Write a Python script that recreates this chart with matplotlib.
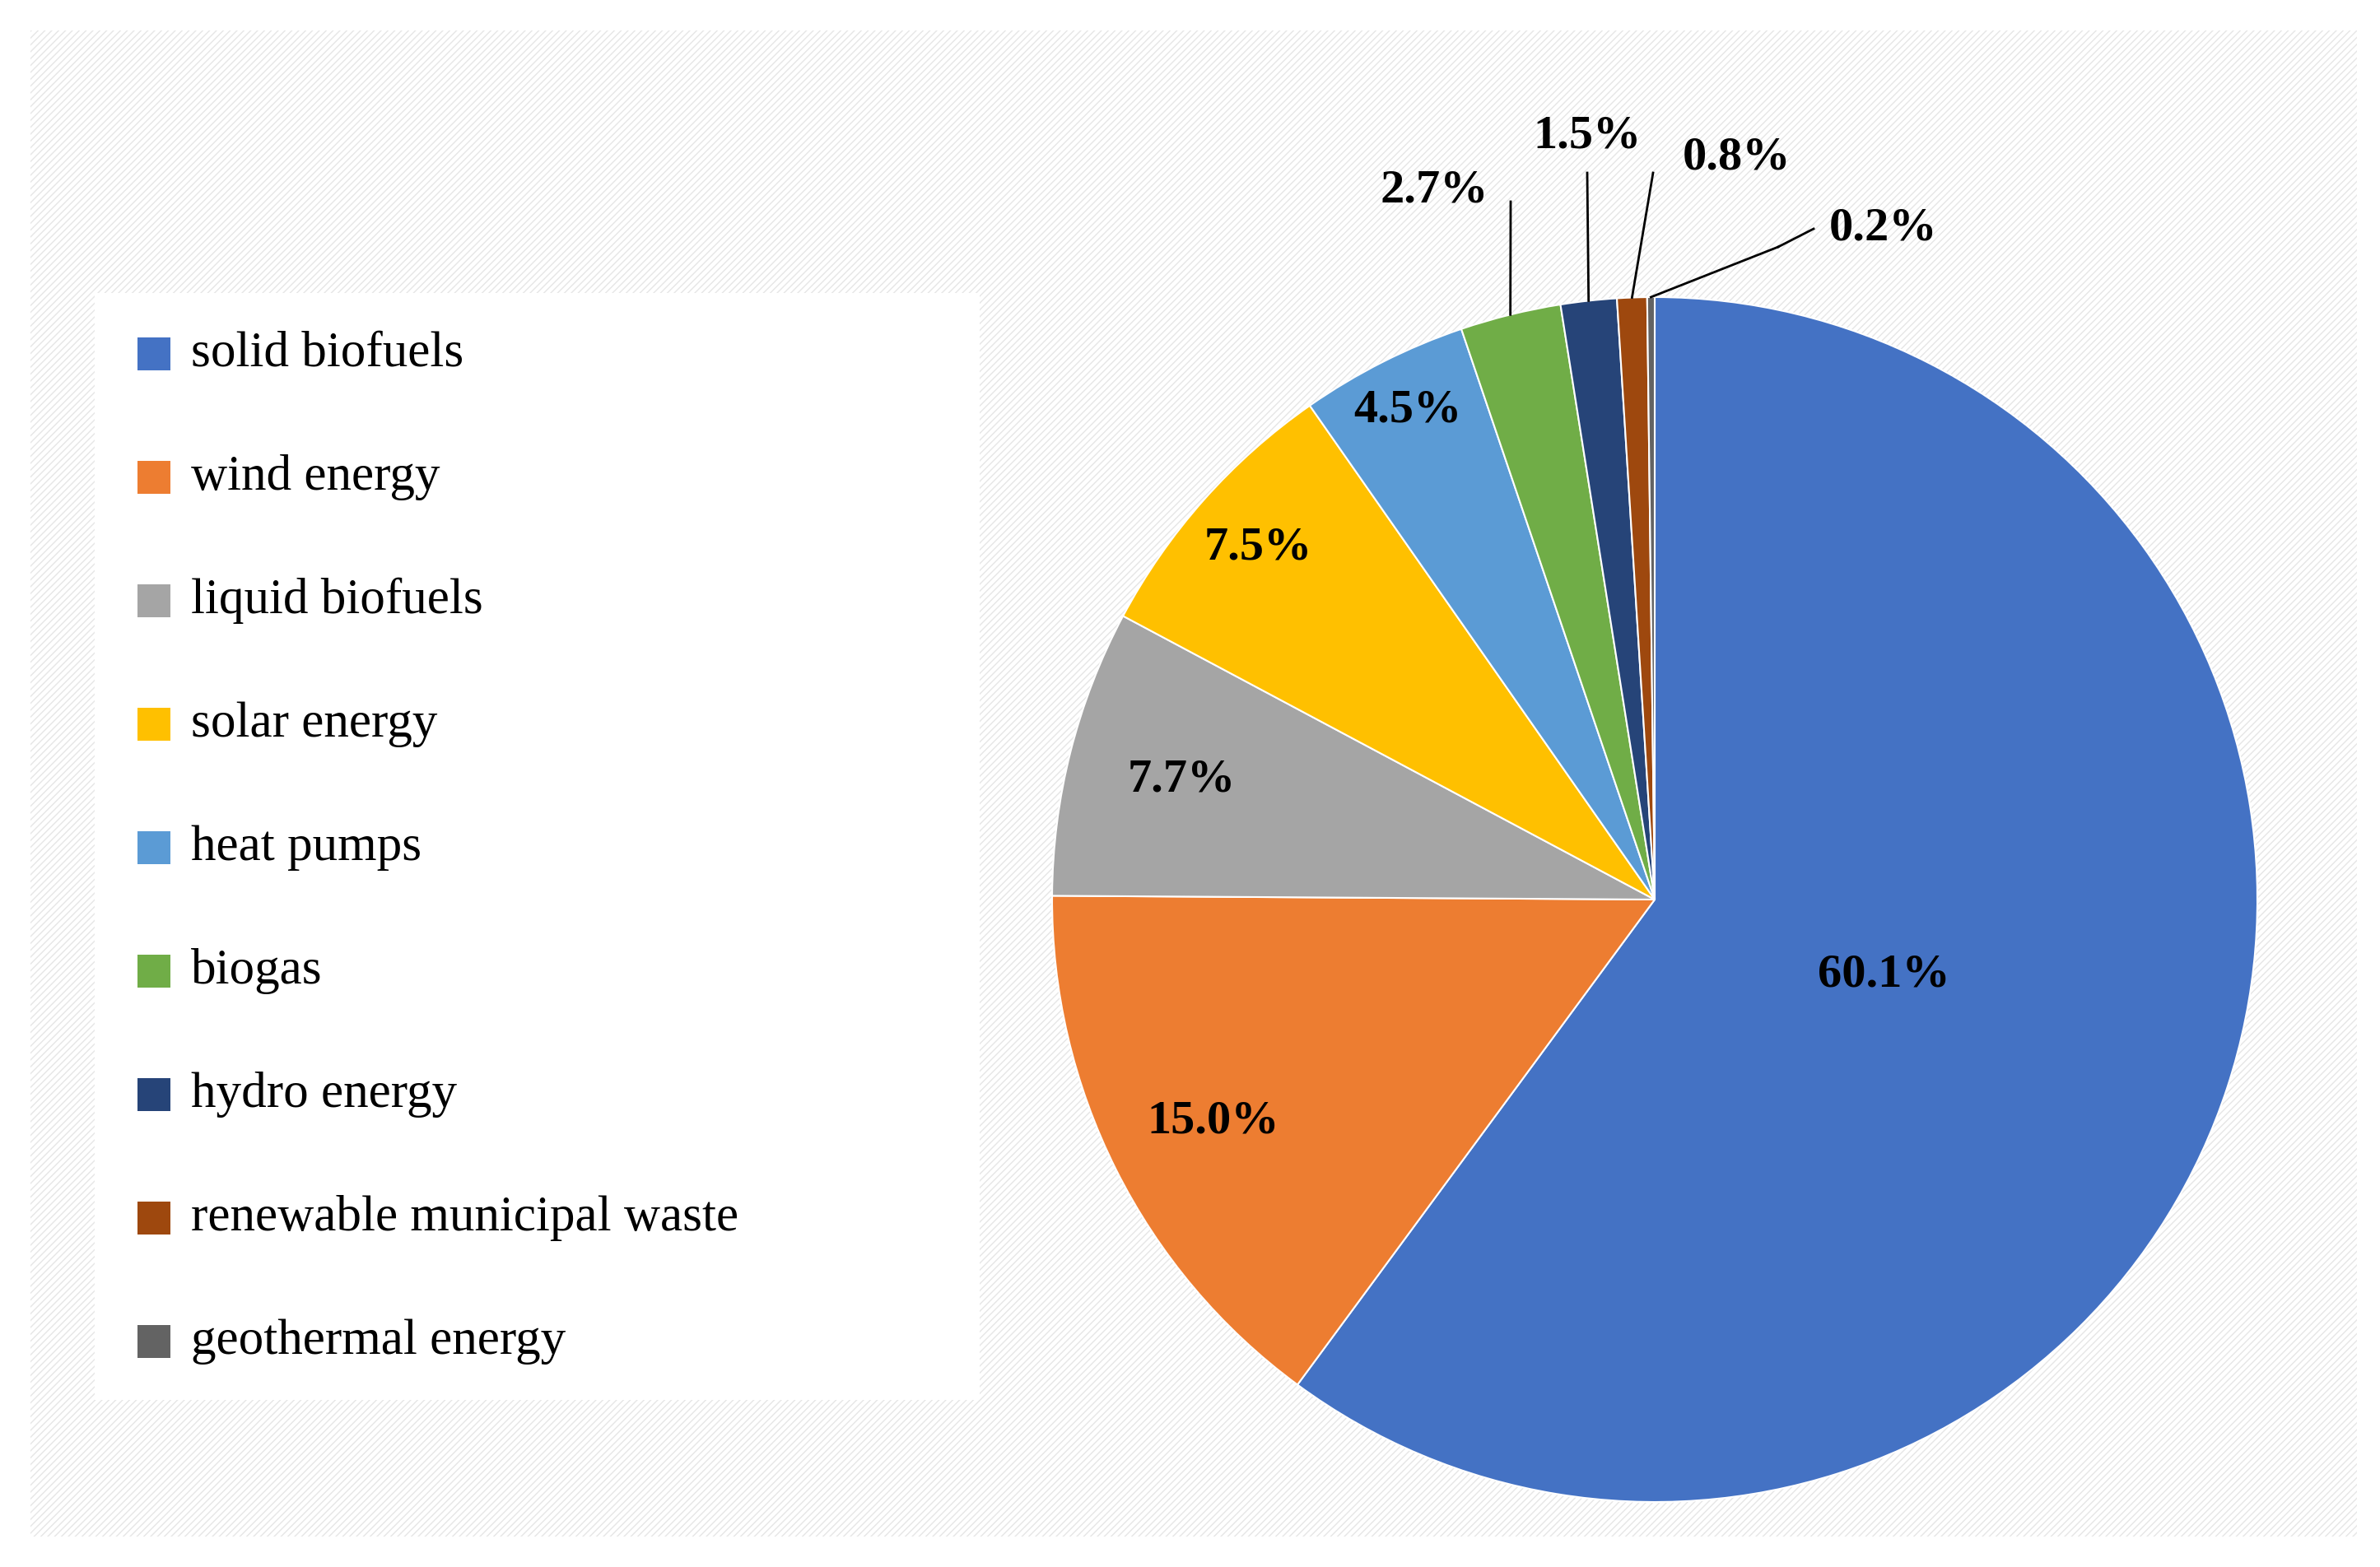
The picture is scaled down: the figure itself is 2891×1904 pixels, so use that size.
import numpy as np
import matplotlib.pyplot as plt
from matplotlib.patches import Rectangle

categories = ['solid biofuels', 'wind energy', 'liquid biofuels', 'solar energy',
              'heat pumps', 'biogas', 'hydro energy', 'renewable municipal waste',
              'geothermal energy']
values = [60.1, 15.0, 7.7, 7.5, 4.5, 2.7, 1.5, 0.8, 0.2]
colors = ['#4472C4', '#ED7D31', '#A5A5A5', '#FFC000', '#5B9BD5', '#70AD47',
          '#264478', '#9E480E', '#636363']

W, H = 2891, 1904
fig = plt.figure(figsize=(W / 100, H / 100), dpi=100)
ax = fig.add_axes([0, 0, 1, 1])
ax.set_xlim(0, W)
ax.set_ylim(0, H)
ax.set_aspect('equal')
ax.axis('off')

# hatched background panel
ax.add_patch(Rectangle((37, 37), 2826, 1830, facecolor='white', edgecolor='#e6e6e6',
                       hatch='////', lw=0, zorder=0))
# legend box
ax.add_patch(Rectangle((115, 203), 1075, 1345, facecolor='white', edgecolor='none', zorder=1))

cx, cy, r = 2010, H - 1093, 732
wedges, _ = ax.pie(values, colors=colors, startangle=90, counterclock=False,
                   center=(cx, cy), radius=r, frame=True,
                   wedgeprops=dict(edgecolor='white', linewidth=1.5))
ax.set_xlim(0, W)
ax.set_ylim(0, H)
ax.axis('off')

font = 'Liberation Serif'
# inside labels: radius fraction per slice
inside_frac = [0.40, 0.82, 0.81, 0.88, 0.91]
for i, frac in enumerate(inside_frac):
    w = wedges[i]
    ang = np.deg2rad((w.theta1 + w.theta2) / 2)
    ax.text(cx + frac * r * np.cos(ang), cy + frac * r * np.sin(ang), f'{values[i]:.1f}%',
            ha='center', va='center', fontsize=42, fontweight='bold', family=font, zorder=5)

# outside labels with leader lines (label pos, line end)
outside = {5: ((1742, H - 232), (1835, H - 245)),
           6: ((1928, H - 165), (1928, H - 210)),
           7: ((2110, H - 192), (2008, H - 210)),
           8: ((2288, H - 278), (2160, H - 300))}
for i, (tpos, lend) in outside.items():
    w = wedges[i]
    ang = np.deg2rad((w.theta1 + w.theta2) / 2)
    p0 = (cx + r * np.cos(ang), cy + r * np.sin(ang))
    ax.plot([p0[0], lend[0]], [p0[1], lend[1]], color='black', lw=2, zorder=4)
    if i == 8:
        ax.plot([lend[0], tpos[0] - 85], [lend[1], tpos[1]], color='black', lw=2, zorder=4)
    ax.text(tpos[0], tpos[1], f'{values[i]:.1f}%', ha='center', va='center',
            fontsize=42, fontweight='bold', family=font, zorder=5)

# legend
for k, (cat, col) in enumerate(zip(categories, colors)):
    y = H - (430 + k * 150)
    ax.add_patch(Rectangle((167, y - 20), 40, 40, facecolor=col, edgecolor='none', zorder=3))
    ax.text(232, y, cat, ha='left', va='center', fontsize=44, family=font, zorder=3)

fig.savefig('out.png', dpi=100)
